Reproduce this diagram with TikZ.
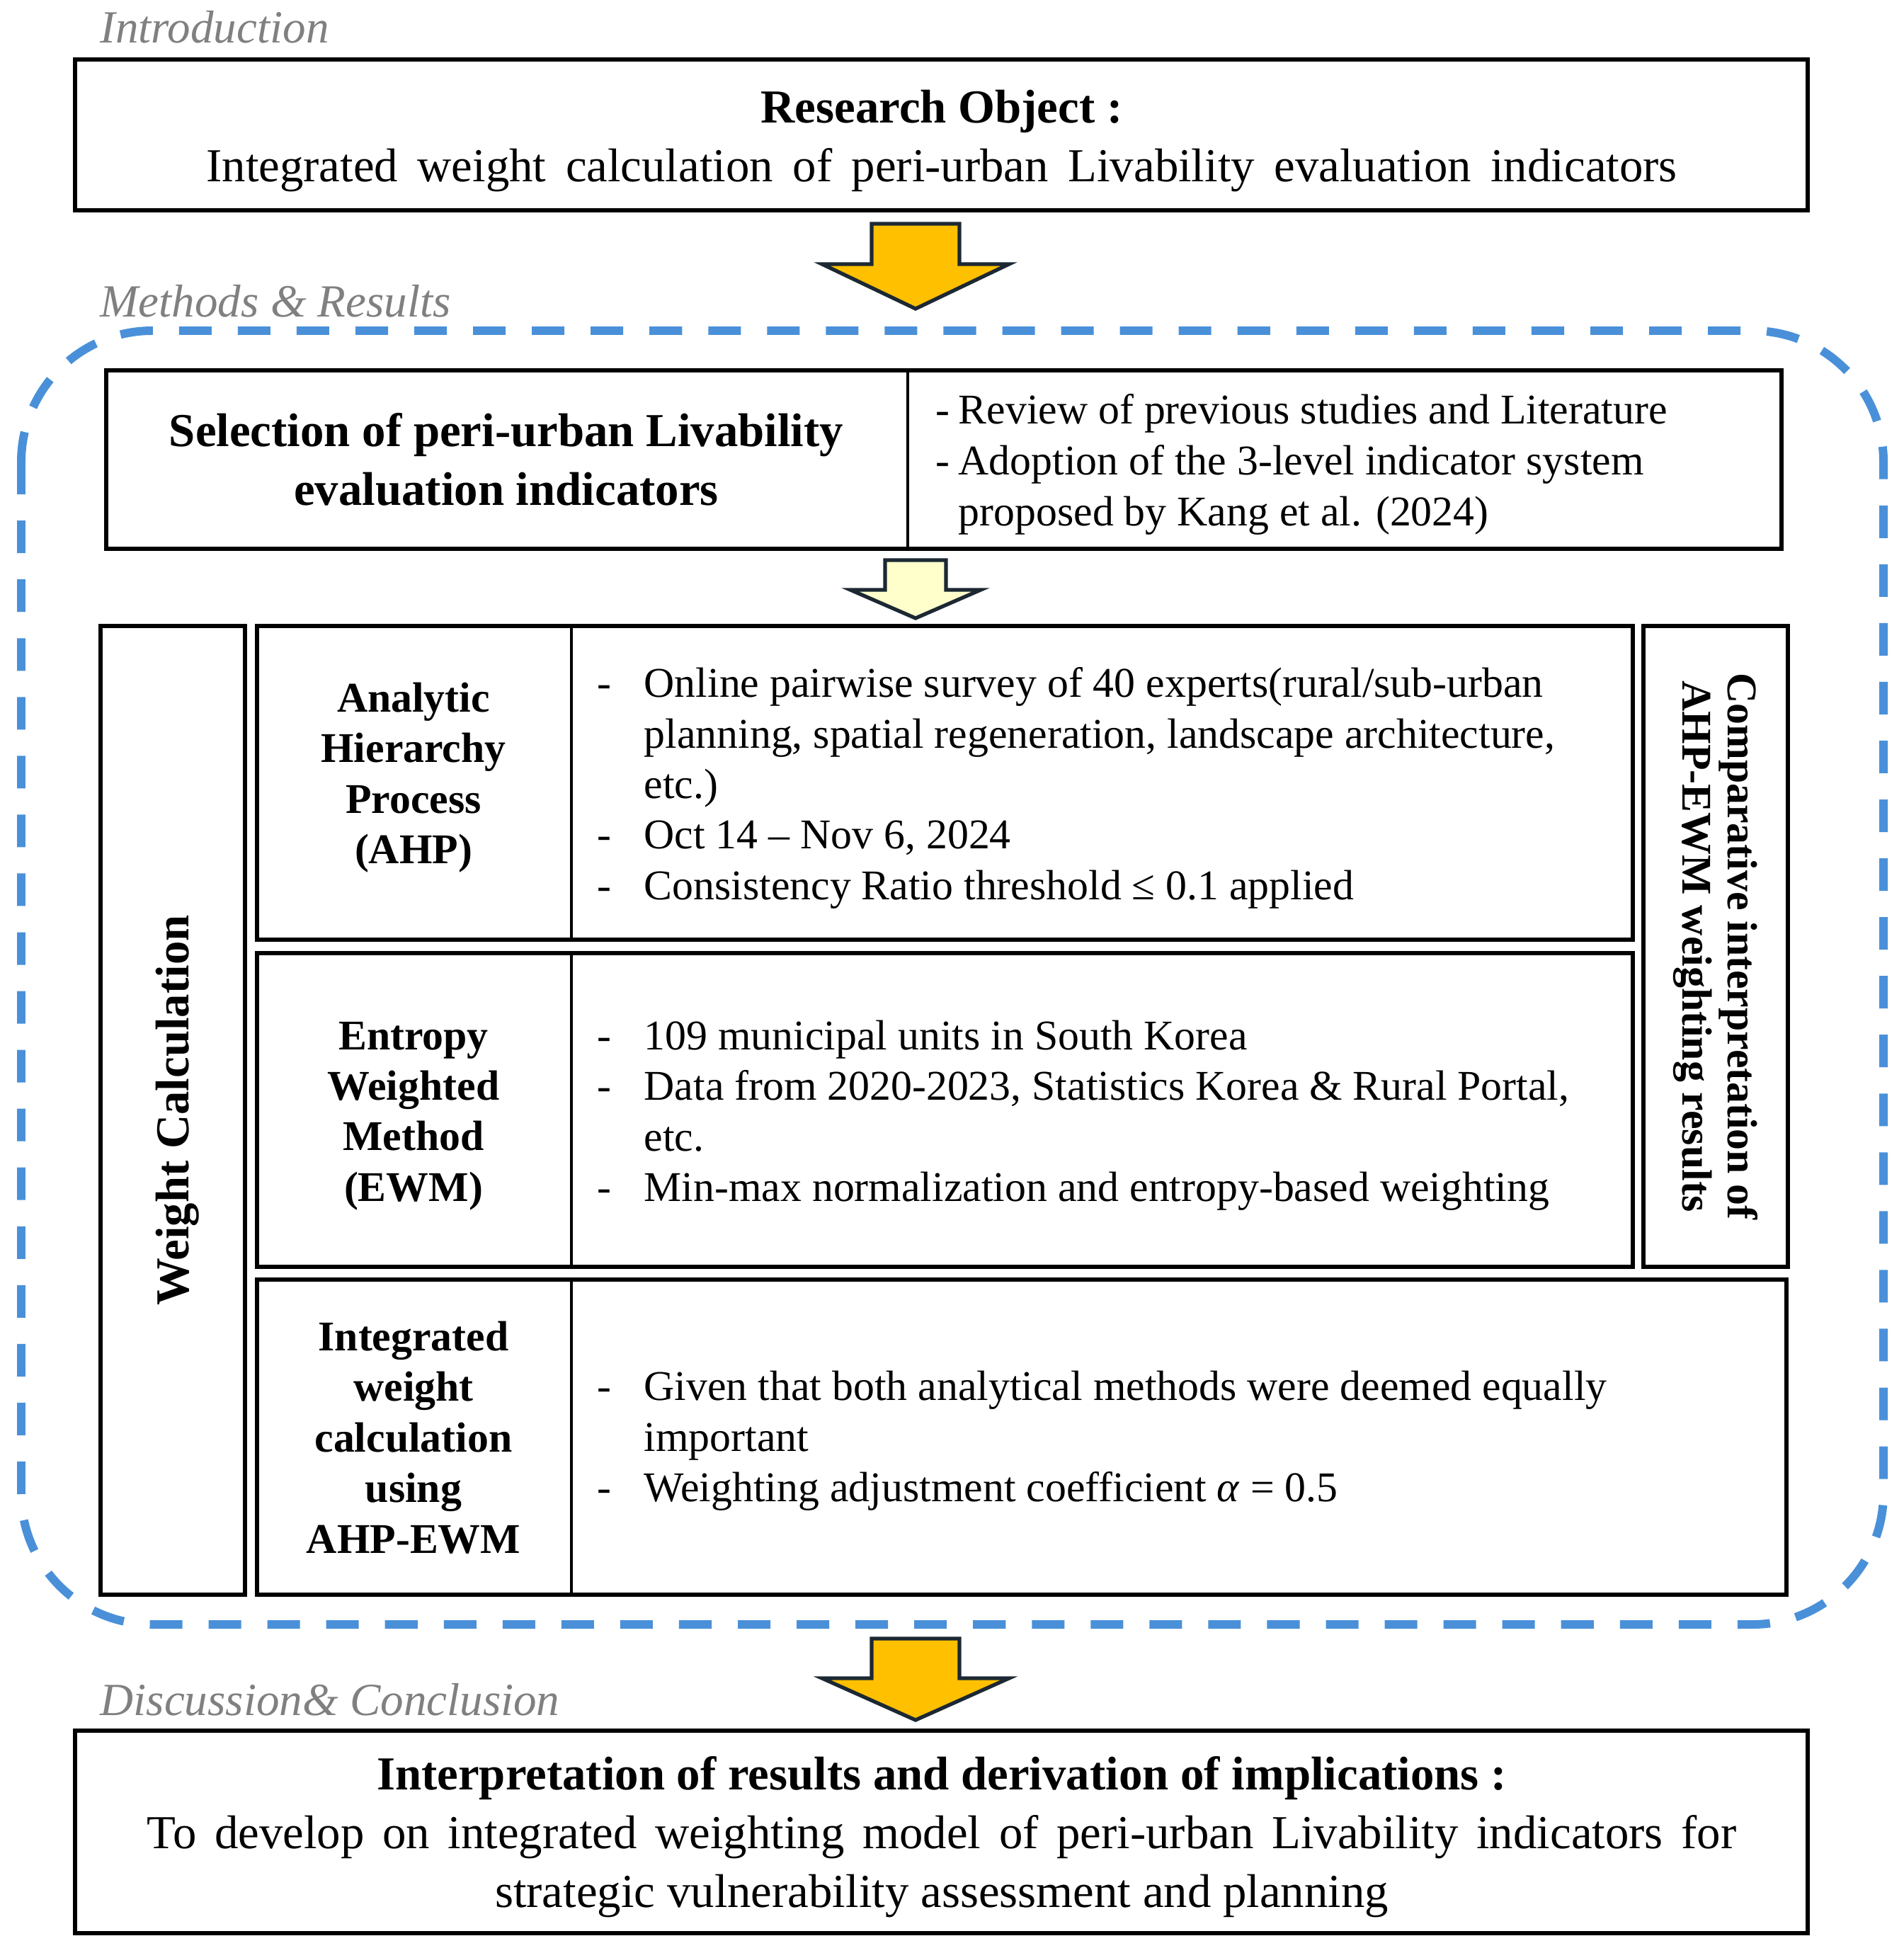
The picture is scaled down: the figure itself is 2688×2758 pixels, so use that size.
\documentclass[tikz,border=0pt]{standalone}
\usepackage{fontspec}
\setmainfont{Liberation Serif}
\usepackage{tikz}
\usetikzlibrary{fit,positioning}
\definecolor{arrowyellow}{RGB}{255,192,0}
\definecolor{arrowpale}{RGB}{255,255,204}
\definecolor{arrowedge}{RGB}{28,40,51}
\definecolor{dashblue}{RGB}{74,144,217}
\definecolor{labelgray}{RGB}{128,128,128}
\newcommand{\dashitem}{\makebox[0.66cm][l]{-}}
\newcommand{\dashgap}{\hspace*{0.66cm}}
\newcommand{\shortdash}{\makebox[0.32cm][l]{-}}

\begin{document}
\begin{tikzpicture}
                            [x=0.01cm,y=-0.01cm,
                            box/.style = {draw,
                                        line width=1.6pt,
                                        inner sep=0pt},
                            divider/.style = {line width=0.9pt},
                            section/.style = {text=labelgray,
                                        font=\fontsize{18.5}{22}\selectfont\itshape,
                                        inner sep=0pt},
                            title/.style = {align=center,
                                        inner sep=0pt,
                                        font=\fontsize{19}{23.6}\selectfont},
                            cell/.style = {align=center,
                                        inner sep=0pt,
                                        font=\fontsize{17}{20.3}\selectfont\bfseries},
                            note/.style = {align=left,
                                        anchor=west,
                                        inner sep=0pt,
                                        font=\fontsize{17}{20.3}\selectfont},
                            bigarrow/.style = {fill=arrowyellow,
                                        draw=arrowedge,
                                        line width=1.5pt},
                            smallarrow/.style = {fill=arrowpale,
                                        draw=arrowedge,
                                        line width=1.5pt},
                            frame/.style = {draw=dashblue,
                                        line width=3.4pt,
                                        dash pattern=on 0.46cm off 0.37cm,
                                        rounded corners=1.85cm}]
                            \useasboundingbox (0,0) rectangle (2688,2758);
                            % Section labels
                            \node[section,anchor=base west] (intro) at (141,61) {Introduction};
                            \node[section,anchor=base west] (methods) at (141,448) {Methods \& Results};
                            \node[section,anchor=base west] (discuss) at (141,2422) {Discussion\& Conclusion};
                            % Research object
                            \node[box,fit={(106,84) (2553,297)}] (obj) {};
                            \node[title] (objtext) at (1330,199)
                                {\textbf{Research Object :}\\
                                \makebox[20.76cm][s]{Integrated weight calculation of peri-urban Livability evaluation indicators}};
                            \draw[bigarrow] (1231,316) -- (1355,316) -- (1355,373) -- (1425,373)
                                -- (1293,436) -- (1161,373) -- (1231,373) -- cycle;
                            % Methods frame
                            \draw[frame] (30,467) rectangle (2660,2294);
                            % Selection of indicators
                            \node[box,fit={(150,523) (2516,775)}] (select) {};
                            \draw[divider] (1282,0 |- select.north) -- (1282,0 |- select.south);
                            \node[title,font=\fontsize{19}{23.6}\selectfont\bfseries] (selecttext) at (715,649)
                                {Selection of peri-urban Livability\\evaluation indicators};
                            \node[note,font=\fontsize{17}{20.5}\selectfont] (selectnote) at (1321,656)
                                {\shortdash Review of previous studies and Literature\\
                                \shortdash Adoption of the 3-level indicator system\\
                                \hspace*{0.32cm}proposed by Kang et al. (2024)};
                            \draw[smallarrow] (1250,791) -- (1336,791) -- (1336,833) -- (1385,833)
                                -- (1293,873) -- (1201,833) -- (1250,833) -- cycle;
                            % Weight calculation
                            \node[box,fit={(142,884) (346,2252)}] (weight) {};
                            \node[rotate=90,font=\fontsize{19}{23}\selectfont\bfseries] (weighttext) at (251,1568)
                                {Weight Calculation};
                            % AHP
                            \node[box,fit={(363,884) (2306,1327)}] (ahp) {};
                            \draw[divider] (807,0 |- ahp.north) -- (807,0 |- ahp.south);
                            \node[cell] (ahptext) at (584,1098) {Analytic\\Hierarchy\\Process\\(AHP)};
                            \node[note] (ahpnote) at (843,1113)
                                {\dashitem Online pairwise survey of 40 experts(rural/sub-urban\\
                                \dashgap planning, spatial regeneration, landscape architecture,\\
                                \dashgap etc.)\\
                                \dashitem Oct 14 -- Nov 6, 2024\\
                                \dashitem Consistency Ratio threshold ≤ 0.1 applied};
                            % EWM
                            \node[box,fit={(363,1346) (2306,1789)}] (ewm) {};
                            \draw[divider] (807,0 |- ewm.north) -- (807,0 |- ewm.south);
                            \node[cell] (ewmtext) at (584,1576) {Entropy\\Weighted\\Method\\(EWM)};
                            \node[note] (ewmnote) at (843,1575)
                                {\dashitem 109 municipal units in South Korea\\
                                \dashitem Data from 2020-2023, Statistics Korea \& Rural Portal,\\
                                \dashgap etc.\\
                                \dashitem Min-max normalization and entropy-based weighting};
                            % Integrated weight
                            \node[box,fit={(363,1807) (2523,2252)}] (integ) {};
                            \draw[divider] (807,0 |- integ.north) -- (807,0 |- integ.south);
                            \node[cell] (integtext) at (584,2030) {Integrated\\weight\\calculation\\using\\AHP-EWM};
                            \node[note] (integnote) at (843,2035)
                                {\dashitem Given that both analytical methods were deemed equally\\
                                \dashgap important\\
                                \dashitem Weighting adjustment coefficient \textit{α} = 0.5};
                            % Comparison
                            \node[box,fit={(2321,884) (2525,1789)}] (compare) {};
                            \node[rotate=-90,align=center,font=\fontsize{17}{18.2}\selectfont\bfseries] (comparetext)
                                at (compare.center) {Comparative interpretation of\\AHP-EWM weighting results};
                            % Conclusion
                            \draw[bigarrow] (1231,2314) -- (1355,2314) -- (1355,2370) -- (1425,2370)
                                -- (1293,2429) -- (1161,2370) -- (1231,2370) -- cycle;
                            \node[box,fit={(106,2444) (2553,2730)}] (concl) {};
                            \node[title] (concltext) at (1330,2594)
                                {\textbf{Interpretation of results and derivation of implications :}\\
                                \makebox[22.43cm][s]{To develop on integrated weighting model of peri-urban Livability indicators for}\\
                                strategic vulnerability assessment and planning};
                        \end{tikzpicture}
\end{document}
